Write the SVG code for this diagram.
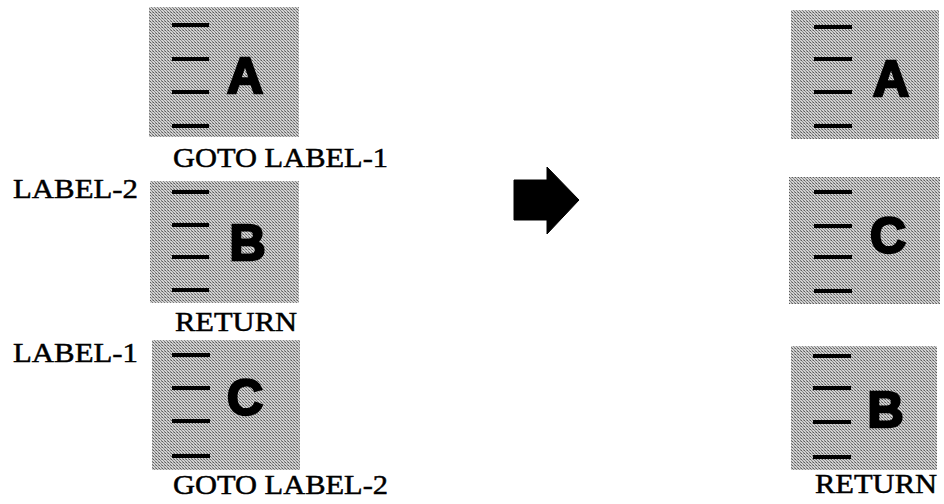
<svg xmlns="http://www.w3.org/2000/svg" width="944" height="504" viewBox="0 0 944 504">
<defs>
<pattern id="ht" width="3" height="3" patternUnits="userSpaceOnUse">
<rect width="3" height="3" fill="#d2d2d2"/>
<rect x="0" y="0" width="1" height="1" fill="#5a5a5a"/>
<rect x="1" y="1" width="1" height="1" fill="#8a8a8a"/>
<rect x="2" y="2" width="1" height="1" fill="#7a7a7a"/>
<rect x="2" y="0" width="1" height="1" fill="#a8a8a8"/>
</pattern>
</defs>
<style>
.box{fill:url(#ht);}
.ln{stroke:#000;stroke-width:4;stroke-linecap:butt;}
.big{font-family:"Liberation Sans",Arial,sans-serif;font-weight:bold;font-size:50px;fill:#000;stroke:#000;stroke-width:2.5;text-anchor:middle;}
.lbl{font-family:"Liberation Serif","Times New Roman",serif;font-size:28px;fill:#000;stroke:#000;stroke-width:0.5;}
</style>
<rect width="944" height="504" fill="#fff"/>

<g id="left-A">
<rect class="box" x="149" y="7" width="150" height="130"/>
<path class="ln" d="M172 25H209M172 59H209M172 92H209M172 126H209"/>
<text class="big" x="245" y="93">A</text>
<text class="lbl" x="173" y="167" textLength="215" lengthAdjust="spacingAndGlyphs">GOTO LABEL-1</text>
</g>

<g id="left-B">
<text class="lbl" x="13" y="198" textLength="125" lengthAdjust="spacingAndGlyphs">LABEL-2</text>
<rect class="box" x="150" y="181" width="149" height="122"/>
<path class="ln" d="M172 192H209M172 225H209M172 257H209M172 290H209"/>
<text class="big" x="247.5" y="260">B</text>
<text class="lbl" x="175" y="331" textLength="122" lengthAdjust="spacingAndGlyphs">RETURN</text>
</g>

<g id="left-C">
<text class="lbl" x="13" y="362" textLength="125" lengthAdjust="spacingAndGlyphs">LABEL-1</text>
<rect class="box" x="152" y="340" width="148" height="130"/>
<path class="ln" d="M172 355H210M172 388H210M172 421H210M172 456H210"/>
<text class="big" x="245" y="415">C</text>
<text class="lbl" x="173" y="494" textLength="215" lengthAdjust="spacingAndGlyphs">GOTO LABEL-2</text>
</g>

<g id="connectors">
<polygon points="514,180 547,180 547,167 579,200 547,234 547,220 514,220" fill="#000" stroke="#000" stroke-width="1" stroke-linejoin="round"/>
</g>

<g id="right-A">
<rect class="box" x="791" y="10" width="148" height="129"/>
<path class="ln" d="M814 27H852M814 59H852M814 92H852M814 126H852"/>
<text class="big" x="891" y="96">A</text>
</g>

<g id="right-C">
<rect class="box" x="789" y="177" width="151" height="127"/>
<path class="ln" d="M814 192H852M814 226H852M814 257H852M814 291H852"/>
<text class="big" x="888" y="253">C</text>
</g>

<g id="right-B">
<rect class="box" x="791" y="346" width="146" height="124"/>
<path class="ln" d="M813 356H851M813 388H851M813 422H851M813 457H851"/>
<text class="big" x="885.5" y="427">B</text>
<text class="lbl" x="815" y="493" textLength="122" lengthAdjust="spacingAndGlyphs">RETURN</text>
</g>
</svg>
